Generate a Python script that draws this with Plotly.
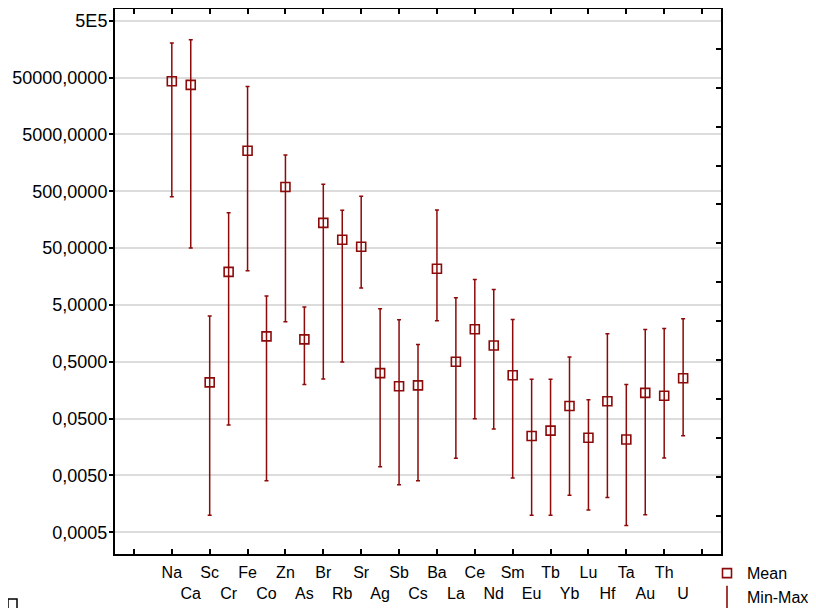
import plotly.graph_objects as go

elements = ["Na", "Ca", "Sc", "Cr", "Fe", "Co", "Zn", "As", "Br", "Rb", "Sr", "Ag", "Sb", "Cs",
            "Ba", "La", "Ce", "Nd", "Sm", "Eu", "Tb", "Yb", "Lu", "Hf", "Ta", "Au", "Th", "U"]
mean_vals = [43150, 37100, 0.217, 19.1, 2570, 1.40, 594, 1.24, 139, 70.2, 52.7, 0.315, 0.185, 0.192,
             21.6, 0.501, 1.87, 0.968, 0.290, 0.0247, 0.0307, 0.0834, 0.0230, 0.101, 0.0215, 0.142, 0.126, 0.256]
min_vals = [399, 50, 0.001, 0.0387, 19.9, 0.00405, 2.52, 0.200, 0.249, 0.494, 9.91, 0.0071, 0.00344, 0.00404,
            2.62, 0.0100, 0.0496, 0.0329, 0.00452, 0.0010, 0.0010, 0.00225, 0.00123, 0.00204, 0.000656, 0.00102, 0.0101, 0.0250]
max_vals = [203000, 232000, 3.18, 210, 34700, 7.15, 2180, 4.60, 662, 231, 410, 4.30, 2.74, 1.007,
            234, 6.67, 13.96, 9.38, 2.77, 0.246, 0.246, 0.607, 0.107, 1.56, 0.200, 1.84, 1.92, 2.85]

y_tick_vals = [5e5, 5e4, 5e3, 5e2, 50, 5, 0.5, 0.05, 0.005, 0.0005]
y_tick_text = ["5E5", "50000,0000", "5000,0000", "500,0000", "50,0000", "5,0000",
               "0,5000", "0,0500", "0,0050", "0,0005"]

# right-axis tick marks (log10 positions) and bottom/top tick marks (category positions)
right_tick_logs = [5.206 - 0.6849 * k for k in range(13)]
x_tick_marks = list(range(-2, 29, 2))

RED = "#8c0a0a"
FONT = "Liberation Sans, Arial, sans-serif"

# figure sits inside the page body (8px default margin)
W, H = 808, 600
ML, MR, MT, MB = 107, 95, 1, 54
PW, PH = W - ML - MR, H - MT - MB

x_idx = list(range(len(elements)))
x_labels = [e if i % 2 == 0 else "<br>" + e for i, e in enumerate(elements)]

fig = go.Figure()
fig.add_trace(go.Scatter(
    x=x_idx, y=mean_vals, mode="markers", name="Mean",
    marker=dict(symbol="square-open", size=9, color=RED, line=dict(width=1.6, color=RED)),
    error_y=dict(type="data", symmetric=False,
                 array=[mx - m for mx, m in zip(max_vals, mean_vals)],
                 arrayminus=[m - mn for m, mn in zip(mean_vals, min_vals)],
                 color=RED, thickness=1.5, width=2),
))
fig.add_trace(go.Scatter(
    x=[None], y=[None], mode="markers", name="Min-Max",
    marker=dict(symbol="line-ns-open", size=16, color=RED, line=dict(width=1.6, color=RED)),
))
# dummy traces to activate overlay axes
fig.add_trace(go.Scatter(x=[0], y=[1], xaxis="x2", yaxis="y", mode="markers",
                         marker=dict(opacity=0), showlegend=False, hoverinfo="skip"))
fig.add_trace(go.Scatter(x=[0], y=[1], xaxis="x", yaxis="y2", mode="markers",
                         marker=dict(opacity=0), showlegend=False, hoverinfo="skip"))

xr = [-3, 29]
yr = [-3.683, 5.905]

fig.update_layout(
    width=W, height=H,
    margin=dict(l=ML, r=MR, t=MT, b=MB, autoexpand=False),
    paper_bgcolor="white", plot_bgcolor="white",
    font=dict(family=FONT, size=16, color="black"),
    showlegend=True,
    legend=dict(x=(699 - ML) / PW, xanchor="left", y=-0.004, yanchor="top",
                font=dict(size=16, family=FONT), bgcolor="rgba(0,0,0,0)",
                borderwidth=0, tracegroupgap=0, itemwidth=30),
    xaxis=dict(range=xr, tickmode="array", tickvals=x_idx, ticktext=x_labels,
               ticks="", tickangle=0, showgrid=False, zeroline=False, automargin=False,
               showline=True, linecolor="black", linewidth=2, mirror=True,
               ticklabelstandoff=3,
               tickfont=dict(size=16, family=FONT)),
    xaxis2=dict(range=xr, overlaying="x", anchor="y", side="bottom",
                tickmode="array", tickvals=x_tick_marks, showticklabels=False,
                ticks="inside", ticklen=5, tickwidth=1.5, tickcolor="black",
                showline=True, linecolor="black", linewidth=2, mirror="ticks",
                showgrid=False, zeroline=False, automargin=False),
    yaxis=dict(type="log", range=yr, tickmode="array", tickvals=y_tick_vals, ticktext=y_tick_text,
               ticks="outside", ticklen=4, tickwidth=1.5, tickcolor="black",
               showgrid=True, gridcolor="#dcdcdc", gridwidth=1.5, zeroline=False, automargin=False,
               showline=True, linecolor="black", linewidth=2, mirror=True,
               ticklabelstandoff=-2,
               tickfont=dict(size=18, family=FONT)),
    yaxis2=dict(type="log", range=yr, overlaying="y", anchor="x", side="right",
                tickmode="array", tickvals=[10 ** v for v in right_tick_logs],
                showticklabels=False, ticks="inside", ticklen=5, tickwidth=1.5, tickcolor="black",
                showgrid=False, zeroline=False, showline=True, linecolor="black", linewidth=2,
                automargin=False),
    shapes=[dict(type="rect", xref="paper", yref="paper",
                 x0=(0 - ML) / PW, x1=(9 - ML) / PW,
                 y0=(MT + PH - 591) / PH, y1=(MT + PH - 610) / PH,
                 line=dict(color="black", width=1.5), fillcolor="rgba(0,0,0,0)")],
)

fig.write_html("out.html")
